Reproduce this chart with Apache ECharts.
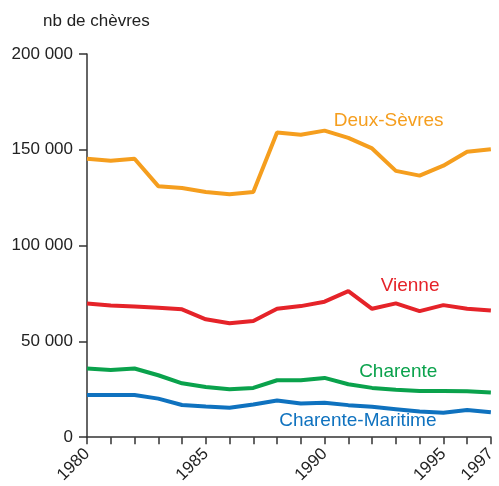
<!DOCTYPE html>
<html>
<head>
<meta charset="UTF-8">
<title></title>
<script src="https://cdn.jsdelivr.net/npm/echarts@6/dist/echarts.min.js"></script>
<style>
  html, body { margin: 0; padding: 0; background: #fff; }
</style>
</head>
<body>
<div id="main" style="width: 499px;height:486px;"></div>
<script type="text/javascript">
var years = [1980, 1981, 1982, 1983, 1984, 1985, 1986, 1987, 1988, 1989, 1990, 1991, 1992, 1993, 1994, 1995, 1996, 1997];
var yearLabels = [1980, 1985, 1990, 1995, 1997];
var deuxSevres = [145300, 144300, 145300, 131000, 130000, 128000, 126800, 128000, 159000, 157800, 160000, 156200, 150700, 139000, 136500, 141700, 149000, 150300];
var vienne = [69800, 68700, 68200, 67500, 66700, 61500, 59400, 60600, 67000, 68400, 70700, 76200, 67000, 69800, 65800, 68900, 67000, 66100];
var charente = [35800, 35100, 35800, 32300, 28100, 26200, 25000, 25700, 29700, 29700, 30900, 27600, 25700, 24700, 24100, 24100, 24000, 23300];
var charenteMaritime = [22000, 22000, 22000, 20100, 16800, 16000, 15300, 17000, 19100, 17500, 18000, 16700, 15800, 14600, 13400, 12700, 14200, 13000];

// noms et position des étiquettes (en coordonnées du graphique)
var names = ['Deux-Sèvres', 'Vienne', 'Charente', 'Charente-Maritime'];
var colors = ['#F59E1E', '#E52329', '#0AA24C', '#0F72BF'];
var labelAt = [[1992.7, 165000], [1993.6, 79000], [1993.1, 34300], [1991.4, 8800]];
var values = [deuxSevres, vienne, charente, charenteMaritime];

var font = 'Liberation Sans, Arial, sans-serif';

function pairs(arr) {
	var out = [];
	for (var i = 0; i < years.length; i++) {
		out.push([years[i], arr[i]]);
	}
	return out;
}

var series = [];
for (var k = 0; k < names.length; k++) {
	series.push({
		name: names[k],
		type: 'line',
		data: pairs(values[k]),
		showSymbol: false,
		symbol: 'none',
		lineStyle: { color: colors[k], width: 4 },
		itemStyle: { color: colors[k] },
		markPoint: {
			symbol: 'circle',
			symbolSize: 0,
			data: [{ coord: labelAt[k], value: names[k] }],
			label: {
				show: true,
				position: 'inside',
				formatter: names[k],
				color: colors[k],
				fontSize: 19,
				fontFamily: font
			}
		}
	});
}

option = {
	animation: false,
	title: {
		text: 'nb de chèvres',
		left: 38,
		top: 8,
		textStyle: { fontSize: 17, fontWeight: 'normal', color: '#222', fontFamily: font }
	},
	grid: { left: 87, right: 3, top: 54, bottom: 48 },
	xAxis: {
		type: 'value',
		min: 1980,
		max: 1997,
		interval: 1,
		splitLine: { show: false },
		axisLine: { show: true, lineStyle: { color: '#333', width: 1.5 } },
		axisTick: { show: true, length: 7, lineStyle: { color: '#333', width: 1.5 } },
		axisLabel: {
			rotate: 45,
			fontSize: 17,
			color: '#222',
			fontFamily: font,
			margin: 14,
			formatter: function (v) {
				return yearLabels.indexOf(v) >= 0 ? String(v) : '';
			}
		}
	},
	yAxis: {
		type: 'value',
		min: 0,
		max: 200000,
		interval: 50000,
		splitLine: { show: false },
		axisLine: { show: true, lineStyle: { color: '#333', width: 1.5 } },
		axisTick: { show: true, length: 8, lineStyle: { color: '#333', width: 1.5 } },
		axisLabel: {
			fontSize: 17,
			color: '#222',
			fontFamily: font,
			margin: 14,
			formatter: function (v) {
				return String(v).replace(/\B(?=(\d{3})+(?!\d))/g, ' ');
			}
		}
	},
	series: series
};

echarts.init(document.getElementById('main')).setOption(option);
</script>
</body>
</html>
